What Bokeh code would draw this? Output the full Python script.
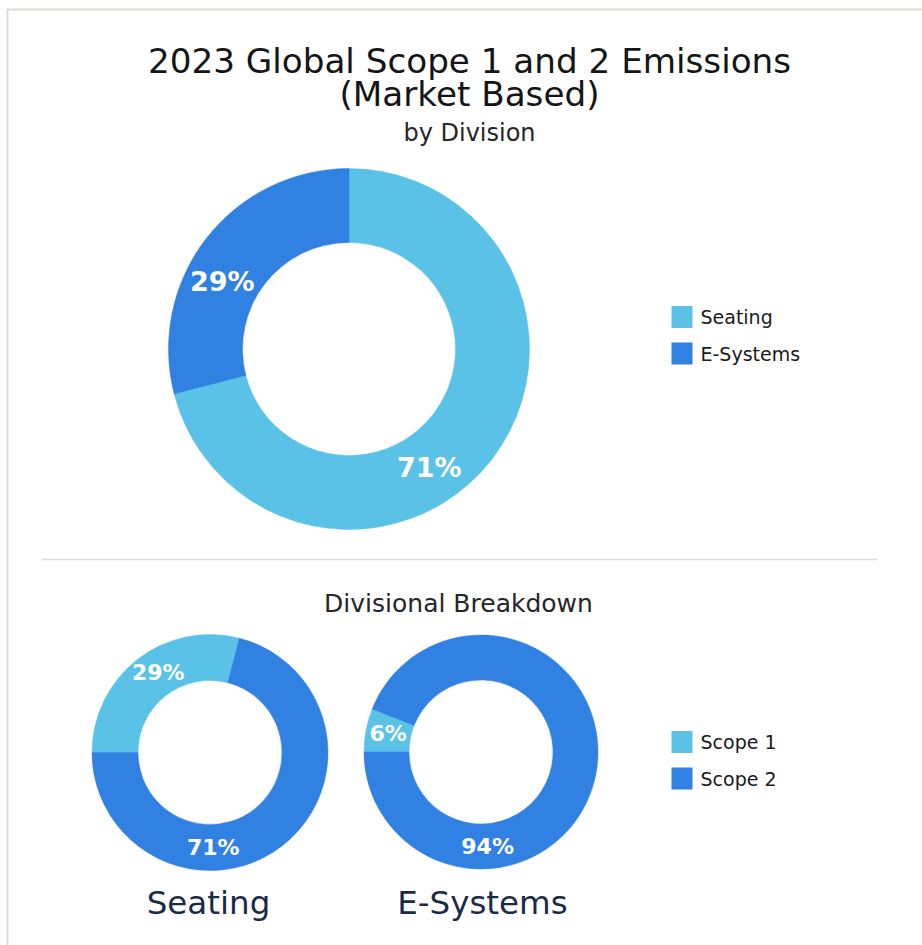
import math
from bokeh.plotting import figure
from bokeh.models import Range1d
from bokeh.core.properties import value
from bokeh.embed import file_html
from bokeh.resources import INLINE

# ---------------- data ----------------
title_lines = ["2023 Global Scope 1 and 2 Emissions", "(Market Based)"]
subtitle = "by Division"
section_title = "Divisional Breakdown"

division_names = ["Seating", "E-Systems"]
division_share = [71, 29]

scope_names = ["Scope 1", "Scope 2"]
seating_scope_share = [29, 71]
esystems_scope_share = [6, 94]

# ---------------- style / layout ----------------
W, H = 922, 945
LIGHT = "#5bc2e7"
DARK = "#3181e2"
BORDER = "#dcdcd6"
TITLE_FONT = "DejaVu Sans"
BODY_FONT = "DejaVu Sans"

p = figure(width=W, height=H, output_backend="svg", toolbar_location=None,
           x_axis_type=None, y_axis_type=None,
           x_range=Range1d(0, W), y_range=Range1d(0, H),
           min_border=0, outline_line_color=None)
p.grid.visible = False
p.background_fill_color = "white"
p.border_fill_color = "white"


def Y(ypx):
    return H - ypx


# card border (left and top) and separator
p.line(x=[7, 7], y=[Y(9), Y(H + 5)], line_color=BORDER, line_width=2)
p.line(x=[6, W + 5], y=[Y(9), Y(9)], line_color=BORDER, line_width=2)
p.line(x=[41, 877], y=[Y(559), Y(559)], line_color=BORDER, line_width=1.5)


def txt(x, y, s, size, color="#1a1a1a", font=TITLE_FONT, style="normal"):
    p.text(x=[x], y=[Y(y)], text=[s], text_font=value(font), text_font_size=size,
           text_color=color, text_align="center", text_baseline="middle",
           text_font_style=style)


txt(469, 60, title_lines[0], "34.2px", color="#151515")
txt(469, 93, title_lines[1], "34.2px", color="#151515")
txt(469, 132, subtitle, "24px", color="#262626")
txt(458, 603, section_title, "25px", color="#262626")


def donut(cx, cy, r_in, r_out, values, colors, start_deg, label_angles, label_size):
    total = float(sum(values))
    theta = start_deg
    r_mid = (r_in + r_out) / 2.0
    for v, c, la in zip(values, colors, label_angles):
        span = 360.0 * v / total
        p.annular_wedge(x=cx, y=Y(cy), inner_radius=r_in, outer_radius=r_out,
                        start_angle=math.radians(90 - theta),
                        end_angle=math.radians(90 - theta - span),
                        direction="clock", fill_color=c, line_color=c, line_width=0.5)
        lx = cx + r_mid * math.sin(math.radians(la))
        ly = cy - r_mid * math.cos(math.radians(la))
        txt(lx, ly, f"{v}%", label_size, color="white", font=BODY_FONT, style="bold")
        theta += span


# main donut
donut(348.5, 348.5, 106.5, 180.5, division_share, [LIGHT, DARK], 0,
      [146, 298], "27px")
# divisional donuts
donut(209.5, 752, 72, 118, seating_scope_share, [LIGHT, DARK], 270,
      [327, 178], "22px")
donut(480.5, 751.5, 72, 117, esystems_scope_share, [LIGHT, DARK], 270,
      [281, 176], "22px")


def legend(x0, y_top, names, colors):
    for i, (n, c) in enumerate(zip(names, colors)):
        yc = y_top + 10.5 + i * 36.5
        p.rect(x=[x0 + 10.5], y=[Y(yc)], width=21, height=22,
               fill_color=c, line_color=None)
        p.text(x=[x0 + 29], y=[Y(yc)], text=[n], text_font=value(BODY_FONT),
               text_font_size="19px", text_color="#1a1a1a",
               text_align="left", text_baseline="middle")


legend(671, 306, division_names, [LIGHT, DARK])
legend(671, 731, scope_names, [LIGHT, DARK])

# division captions under the small donuts
txt(208, 902, division_names[0], "32.5px", color="#1b2a47", font=BODY_FONT)
txt(482, 902, division_names[1], "32.5px", color="#1b2a47", font=BODY_FONT)

open("out.html", "w").write(file_html(p, INLINE))
